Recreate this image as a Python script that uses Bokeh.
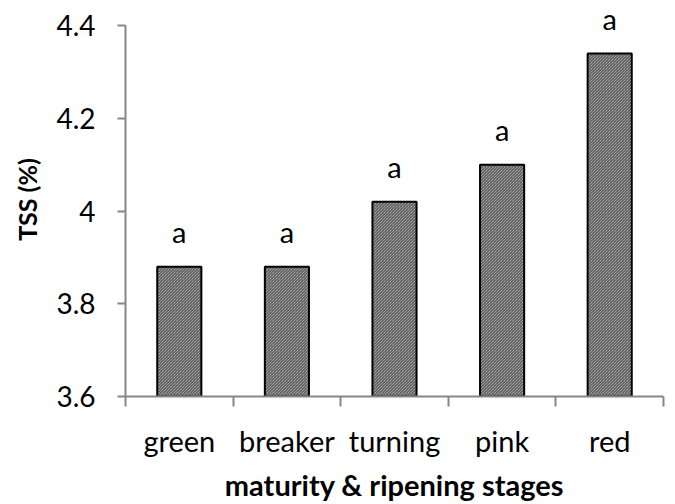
from bokeh.plotting import figure
from bokeh.models import Range1d, FixedTicker, ColumnDataSource
from bokeh.core.properties import value
from bokeh.embed import file_html
from bokeh.resources import INLINE

stages = ["green", "breaker", "turning", "pink", "red"]
tss = [3.88, 3.88, 4.02, 4.10, 4.34]
letters = ["a", "a", "a", "a", "a"]
y_ticks = [3.6, 3.8, 4.0, 4.2, 4.4]
y_tick_labels = ["3.6", "3.8", "4", "4.2", "4.4"]

x = [i + 1 for i in range(len(stages))]
src = ColumnDataSource(dict(x=x, top=tss, lab=letters))

FONT = "Lato"
GRAY = "#868686"

p = figure(width=667, height=504, output_backend="svg", toolbar_location=None,
           x_range=Range1d(0.5, len(stages) + 0.5), y_range=Range1d(3.6, 4.45),
           min_border_left=125, min_border_right=4, min_border_top=2, min_border_bottom=108)
p.outline_line_color = None
p.grid.visible = False

p.vbar(x="x", top="top", bottom=3.6, width=0.41, source=src,
       fill_color="#d0d0d0", line_color="black", line_width=2,
       hatch_pattern="left_diagonal_line", hatch_color="#404040",
       hatch_scale=3, hatch_weight=1)

p.text(x="x", y="top", text="lab", source=src, y_offset=-35,
       text_align="center", text_baseline="alphabetic",
       text_font=value(FONT), text_font_size="29px", text_color="black")

# x axis
p.xaxis.ticker = FixedTicker(ticks=x, minor_ticks=[i + 0.5 for i in range(len(stages) + 1)])
p.xaxis.major_label_overrides = {xi: s for xi, s in zip(x, stages)}
p.xaxis.major_tick_line_color = None
p.xaxis.minor_tick_line_color = GRAY
p.xaxis.minor_tick_line_width = 2
p.xaxis.minor_tick_in = 0
p.xaxis.minor_tick_out = 10
p.xaxis.axis_line_color = GRAY
p.xaxis.axis_line_width = 2
p.xaxis.major_label_standoff = 16
p.xaxis.major_label_text_font = FONT
p.xaxis.major_label_text_font_size = "29px"
p.xaxis.major_label_text_color = "black"
p.xaxis.axis_label = "maturity & ripening stages"
p.xaxis.axis_label_text_font = FONT
p.xaxis.axis_label_text_font_style = "bold"
p.xaxis.axis_label_text_font_size = "29px"
p.xaxis.axis_label_text_color = "black"
p.xaxis.axis_label_standoff = 6

# y axis
p.yaxis.bounds = (3.6, 4.4)
p.yaxis.ticker = FixedTicker(ticks=y_ticks, minor_ticks=[])
p.yaxis.major_label_overrides = {t: s for t, s in zip(y_ticks, y_tick_labels)}
p.yaxis.major_tick_line_color = GRAY
p.yaxis.major_tick_line_width = 2
p.yaxis.major_tick_in = 0
p.yaxis.major_tick_out = 8
p.yaxis.axis_line_color = GRAY
p.yaxis.axis_line_width = 2
p.yaxis.major_label_standoff = 22
p.yaxis.major_label_text_font = FONT
p.yaxis.major_label_text_font_size = "28px"
p.yaxis.major_label_text_color = "black"
p.yaxis.axis_label = "TSS (%)"
p.yaxis.axis_label_text_font = FONT
p.yaxis.axis_label_text_font_style = "bold"
p.yaxis.axis_label_text_font_size = "25px"
p.yaxis.axis_label_text_color = "black"
p.yaxis.axis_label_standoff = 11

open("out.html", "w").write(file_html(p, INLINE))
